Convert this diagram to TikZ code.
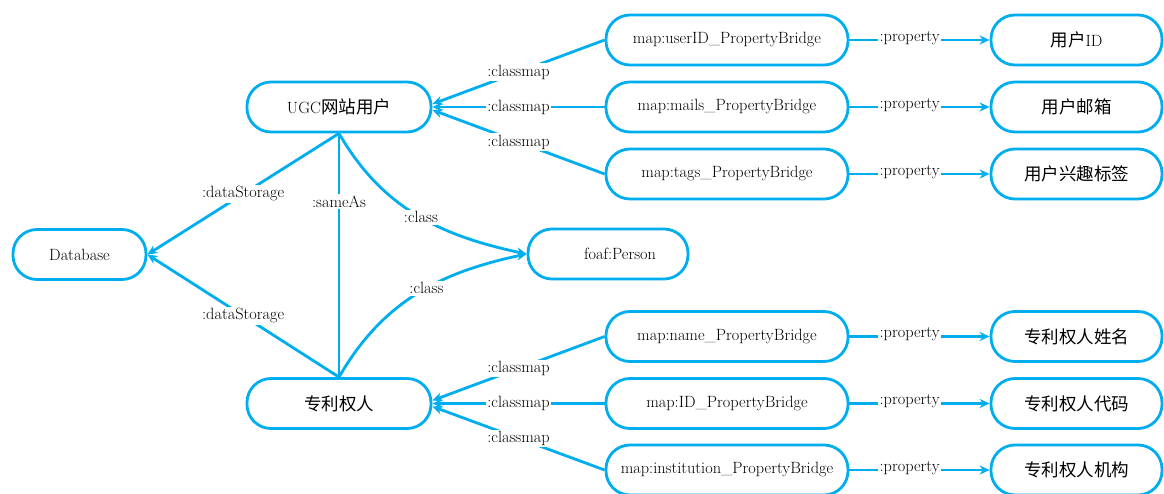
\documentclass[tikz,border=0pt]{standalone}
\usepackage{fontspec}
\newfontfamily\cjk{Noto Sans CJK SC}
\newcommand\myzh[1]{{\cjk\fontsize{17.5}{20}\selectfont #1}}
\usetikzlibrary{arrows.meta}
\definecolor{lc}{RGB}{0,174,239}
\begin{document}
\begin{tikzpicture}[x=1pt,y=-1pt,
  box/.style={draw=lc, line width=2.8pt, rounded corners=24pt, minimum height=50pt, inner sep=0pt, font=\fontsize{16.3}{19}\selectfont},
  conn/.style={draw=lc, line width=2.8pt},
  arr/.style={conn, -{Stealth[length=10pt,width=9pt]}},
  lab/.style={fill=white, inner sep=1.5pt, font=\fontsize{16.3}{19}\selectfont}]
\useasboundingbox (0,0) rectangle (1164,494);
\node[box, minimum width=133pt] (db) at (79.5,254.5) {Database};
\node[box, minimum width=184pt] (ugc) at (339,107) {UGC\myzh{网站用户}};
\node[box, minimum width=184pt] (zl) at (339,403.5) {\myzh{专利权人}};
\node[box, minimum width=160pt] (foaf) at (608,254) {\hspace*{24pt}foaf:Person};
\node[box, minimum width=242pt] (m1) at (727,40) {map:userID\_PropertyBridge};
\node[box, minimum width=242pt] (m2) at (727,107) {map:mails\_PropertyBridge};
\node[box, minimum width=242pt] (m3) at (727,174) {map:tags\_PropertyBridge};
\node[box, minimum width=242pt] (m4) at (727,336.5) {map:name\_PropertyBridge};
\node[box, minimum width=242pt] (m5) at (727,403.5) {map:ID\_PropertyBridge};
\node[box, minimum width=242pt] (m6) at (727,470) {map:institution\_PropertyBridge};
\node[box, minimum width=171pt] (r1) at (1076.5,40) {\myzh{用户}ID};
\node[box, minimum width=171pt] (r2) at (1076.5,107) {\myzh{用户邮箱}};
\node[box, minimum width=171pt] (r3) at (1076.5,174) {\myzh{用户兴趣标签}};
\node[box, minimum width=171pt] (r4) at (1076.5,336.5) {\myzh{专利权人姓名}};
\node[box, minimum width=171pt] (r5) at (1076.5,403.5) {\myzh{专利权人代码}};
\node[box, minimum width=171pt] (r6) at (1076.5,470) {\myzh{专利权人机构}};
% classmap
\draw[arr] (m1.west) -- node[lab]{:classmap} ([yshift=3pt]ugc.east);
\draw[arr] (m2.west) -- node[lab]{:classmap} (ugc.east);
\draw[arr] (m3.west) -- node[lab]{:classmap} ([yshift=-3pt]ugc.east);
\draw[arr] (m4.west) -- node[lab]{:classmap} ([yshift=3pt]zl.east);
\draw[arr] (m5.west) -- node[lab]{:classmap} (zl.east);
\draw[arr] (m6.west) -- node[lab]{:classmap} ([yshift=-3pt]zl.east);
% property
\foreach \i in {1,...,6}{
  \draw[arr] (m\i.east) -- node[lab,pos=0.43,yshift=2pt]{:property} (r\i.west);
}
% dataStorage
\draw[arr] (ugc.south) -- node[lab]{:dataStorage} (db.east);
\draw[arr] (zl.north) -- node[lab]{:dataStorage} (db.east);
% sameAs
\draw[conn] (ugc.south) -- node[lab,pos=0.28]{:sameAs} (zl.north);
% class
\draw[arr] (ugc.south) to[out=-60,in=168] node[lab,pos=0.52]{:class} (foaf.west);
\draw[arr] (zl.north) to[out=60,in=192] node[lab,pos=0.55]{:class} (foaf.west);
\end{tikzpicture}
\end{document}
